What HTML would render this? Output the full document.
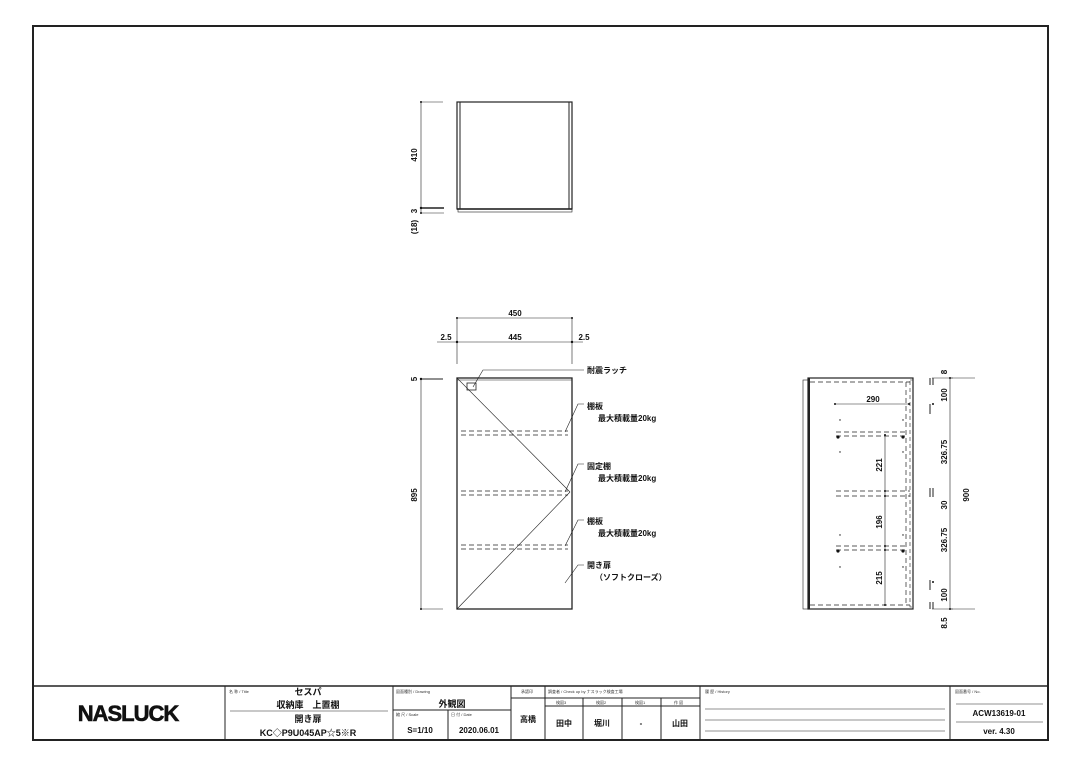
<!DOCTYPE html>
<html><head><meta charset="utf-8"><style>
body{margin:0;background:#fff;}
svg{display:block;font-family:"Liberation Sans","Noto Sans CJK JP",sans-serif;}
.t{font-size:8px;fill:#111;font-weight:bold;}
.s{font-size:4px;fill:#333;}
</style></head><body>
<svg width="1080" height="764" viewBox="0 0 1080 764" xmlns="http://www.w3.org/2000/svg">
<rect x="33" y="26" width="1015" height="714" fill="none" stroke="#222" stroke-width="2"/>
<g stroke="#222" fill="none">
<rect x="457" y="102" width="115" height="107" stroke-width="1.2"/>
<line x1="460" y1="102" x2="460" y2="209"/><line x1="569" y1="102" x2="569" y2="209"/>
<line x1="457" y1="209" x2="572" y2="209" stroke-width="1.5"/>
<rect x="458" y="209" width="114" height="3" stroke-width="0.6"/>
<line x1="421" y1="102" x2="421" y2="213" stroke-width="0.6"/>
<line x1="421" y1="102" x2="443" y2="102" stroke-width="0.6"/>
<line x1="421" y1="208" x2="444" y2="208" stroke-width="1.5"/>
<line x1="421" y1="213" x2="444" y2="213" stroke-width="0.6"/>
<rect x="457" y="378" width="115" height="231" stroke-width="1.3"/>
<line x1="457" y1="380" x2="572" y2="380" stroke-width="0.6"/>
<line x1="457" y1="318" x2="572" y2="318" stroke-width="0.6"/>
<line x1="437" y1="342" x2="583" y2="342" stroke-width="0.6"/>
<line x1="457" y1="318" x2="457" y2="364" stroke-width="0.6"/>
<line x1="572" y1="318" x2="572" y2="364" stroke-width="0.6"/>
<line x1="421" y1="378" x2="421" y2="609" stroke-width="0.6"/>
<line x1="421" y1="379" x2="443" y2="379" stroke-width="1"/>
<line x1="421" y1="609" x2="443" y2="609" stroke-width="0.6"/>
<line x1="457" y1="378" x2="570" y2="492" stroke-width="0.6"/>
<line x1="570" y1="492" x2="457" y2="609" stroke-width="0.6"/>
<rect x="467" y="383" width="9" height="7" stroke-width="0.8"/>
<g stroke-dasharray="5,3" stroke-width="0.7">
<line x1="461" y1="431" x2="568" y2="431"/><line x1="461" y1="435" x2="568" y2="435"/>
<line x1="461" y1="491" x2="568" y2="491"/><line x1="461" y1="495" x2="568" y2="495"/>
<line x1="461" y1="545" x2="568" y2="545"/><line x1="461" y1="549" x2="568" y2="549"/>
</g>
<g stroke-width="0.6">
<polyline points="584,370 483,370 473,387"/>
<polyline points="584,404 578,404 565,432"/>
<polyline points="584,464 578,464 565,492"/>
<polyline points="584,520 578,520 565,546"/>
<polyline points="584,565 578,565 565,583"/>
</g>
<rect x="808" y="378" width="105" height="231" stroke-width="1.2"/>
<rect x="803" y="380" width="5" height="229" stroke-width="0.6"/>
<line x1="809" y1="378" x2="809" y2="609" stroke-width="2"/>
<rect x="910" y="380" width="3" height="227" stroke-dasharray="4,3" stroke-width="0.6"/>
<g stroke-dasharray="5,3" stroke-width="0.7">
<line x1="810" y1="382" x2="910" y2="382"/><line x1="810" y1="605" x2="910" y2="605"/>
<line x1="906" y1="382" x2="906" y2="605"/>
<line x1="836" y1="432" x2="908" y2="432"/><line x1="836" y1="436" x2="908" y2="436"/>
<line x1="836" y1="491" x2="910" y2="491"/><line x1="836" y1="496" x2="910" y2="496"/>
<line x1="836" y1="546" x2="908" y2="546"/><line x1="836" y1="550" x2="908" y2="550"/>
</g>
<line x1="835" y1="404" x2="909" y2="404" stroke-width="0.6"/>
<line x1="885" y1="435" x2="885" y2="605" stroke-width="0.6"/>
<line x1="950" y1="378" x2="950" y2="609" stroke-width="0.6"/>
<line x1="932" y1="378" x2="953" y2="378" stroke-width="0.6"/>
<line x1="932" y1="609" x2="953" y2="609" stroke-width="0.6"/>
<line x1="950" y1="378" x2="975" y2="378" stroke-width="0.6"/>
<line x1="950" y1="609" x2="975" y2="609" stroke-width="0.6"/>
<line x1="930" y1="378" x2="930" y2="385"/><line x1="933" y1="378" x2="933" y2="385"/>
<line x1="930" y1="404" x2="930" y2="414"/>
<line x1="930" y1="488" x2="930" y2="497"/><line x1="933" y1="488" x2="933" y2="497"/>
<line x1="930" y1="580" x2="930" y2="590"/>
<line x1="930" y1="602" x2="930" y2="609"/><line x1="933" y1="602" x2="933" y2="609"/>
<line x1="33" y1="686" x2="1048" y2="686" stroke-width="1.5"/>
<line x1="225" y1="686" x2="225" y2="740"/>
<line x1="393" y1="686" x2="393" y2="740"/>
<line x1="511" y1="686" x2="511" y2="740"/>
<line x1="545" y1="686" x2="545" y2="740"/>
<line x1="700" y1="686" x2="700" y2="740"/>
<line x1="950" y1="686" x2="950" y2="740"/>
<line x1="230" y1="711" x2="388" y2="711" stroke-width="0.6"/>
<line x1="393" y1="710" x2="511" y2="710"/>
<line x1="448" y1="710" x2="448" y2="740"/>
<line x1="511" y1="698" x2="700" y2="698"/>
<line x1="545" y1="706" x2="700" y2="706"/>
<line x1="583" y1="698" x2="583" y2="740"/>
<line x1="622" y1="698" x2="622" y2="740"/>
<line x1="661" y1="698" x2="661" y2="740"/>
<g stroke-width="0.6"><line x1="705" y1="709" x2="945" y2="709"/><line x1="705" y1="720" x2="945" y2="720"/><line x1="705" y1="731" x2="945" y2="731"/>
<line x1="956" y1="704" x2="1043" y2="704"/><line x1="956" y1="722" x2="1043" y2="722"/></g>
</g>
<g fill="#111">
<circle cx="421" cy="102" r="1"/><circle cx="421" cy="208" r="1.2"/><circle cx="421" cy="213" r="1"/>
<circle cx="421" cy="379" r="1.2"/><circle cx="421" cy="609" r="1"/>
<circle cx="457" cy="318" r="1"/><circle cx="572" cy="318" r="1"/><circle cx="457" cy="342" r="1.2"/><circle cx="572" cy="342" r="1.2"/>
<circle cx="835" cy="404" r="1"/><circle cx="909" cy="404" r="1"/>
<circle cx="885" cy="435" r="1"/><circle cx="885" cy="491" r="1"/><circle cx="885" cy="496" r="1"/><circle cx="885" cy="546" r="1"/><circle cx="885" cy="550" r="1"/><circle cx="885" cy="605" r="1"/>
<circle cx="838" cy="437" r="1.6"/><circle cx="903" cy="437" r="1.6"/><circle cx="838" cy="551" r="1.6"/><circle cx="903" cy="551" r="1.6"/>
<circle cx="840" cy="420" r="0.7"/><circle cx="903" cy="420" r="0.7"/><circle cx="840" cy="452" r="0.7"/><circle cx="903" cy="452" r="0.7"/>
<circle cx="840" cy="535" r="0.7"/><circle cx="903" cy="535" r="0.7"/><circle cx="840" cy="567" r="0.7"/><circle cx="903" cy="567" r="0.7"/>
<circle cx="950" cy="378" r="1"/><circle cx="950" cy="609" r="1"/><circle cx="933" cy="404" r="1"/><circle cx="933" cy="582" r="1"/>
</g>
<g class="t" text-anchor="middle">
<text transform="translate(417,155) rotate(-90)">410</text>
<text transform="translate(417,211) rotate(-90)">3</text>
<text transform="translate(417,227) rotate(-90)">(18)</text>
<text x="515" y="316">450</text>
<text x="515" y="340">445</text>
<text x="446" y="340">2.5</text>
<text x="584" y="340">2.5</text>
<text transform="translate(417,379) rotate(-90)">5</text>
<text transform="translate(417,495) rotate(-90)">895</text>
<text x="873" y="402">290</text>
<text transform="translate(882,465) rotate(-90)">221</text>
<text transform="translate(882,522) rotate(-90)">196</text>
<text transform="translate(882,578) rotate(-90)">215</text>
<text transform="translate(947,372) rotate(-90)">8</text>
<text transform="translate(947,395) rotate(-90)">100</text>
<text transform="translate(947,452) rotate(-90)">326.75</text>
<text transform="translate(947,505) rotate(-90)">30</text>
<text transform="translate(947,540) rotate(-90)">326.75</text>
<text transform="translate(947,595) rotate(-90)">100</text>
<text transform="translate(947,623) rotate(-90)">8.5</text>
<text transform="translate(969,495) rotate(-90)">900</text>
</g>
<g class="t">
<text x="587" y="373">耐震ラッチ</text>
<text x="587" y="409">棚板</text><text x="598" y="421">最大積載量20kg</text>
<text x="587" y="469">固定棚</text><text x="598" y="481">最大積載量20kg</text>
<text x="587" y="524">棚板</text><text x="598" y="536">最大積載量20kg</text>
<text x="587" y="568">開き扉</text><text x="595" y="580">（ソフトクローズ）</text>
</g>
<text x="128" y="721" text-anchor="middle" font-size="22" font-weight="bold" fill="#111" stroke="#111" stroke-width="0.6" letter-spacing="-1">NASLUCK</text>
<g class="s">
<text x="229" y="693">名 称 / Title</text>
<text x="396" y="693">図面種別 / Drawing</text>
<text x="396" y="716">縮 尺 / Scale</text>
<text x="451" y="716">日 付 / Date</text>
<text x="521" y="693">承認印</text>
<text x="548" y="693">調査者 / Check up by ナスラック検査工場</text>
<text x="705" y="693">履 歴 / History</text>
<text x="955" y="693">図面番号 / No.</text>
<text x="556" y="704">検図3</text><text x="596" y="704">検図2</text><text x="635" y="704">検図1</text><text x="674" y="704">作 図</text>
</g>
<g class="t" text-anchor="middle">
<text x="308" y="695" font-size="9">セスパ</text>
<text x="308" y="708" font-size="9">収納庫　上置棚</text>
<text x="308" y="722" font-size="9">開き扉</text>
<text x="308" y="736" font-size="9">KC◇P9U045AP☆5※R</text>
<text x="452" y="707" font-size="9">外観図</text>
<text x="420" y="733">S=1/10</text>
<text x="479" y="733">2020.06.01</text>
<text x="528" y="722">高橋</text>
<text x="564" y="726">田中</text>
<text x="602" y="726">堀川</text>
<text x="641" y="726">-</text>
<text x="680" y="726">山田</text>
<text x="999" y="716">ACW13619-01</text>
<text x="999" y="734">ver. 4.30</text>
</g>
</svg>
</body></html>
